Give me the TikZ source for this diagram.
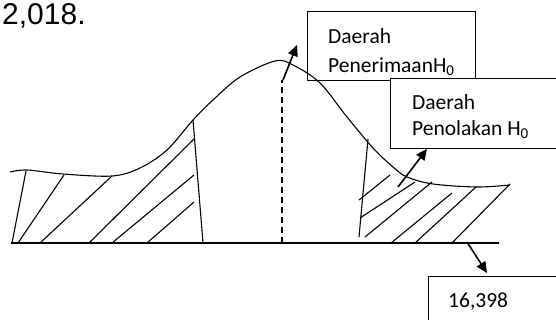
\documentclass[tikz,border=0pt]{standalone}
\usepackage{fontspec}
\setmainfont{Carlito}
\newfontfamily\arialf{Liberation Sans}
\usetikzlibrary{arrows.meta}
\tikzset{
  curveline/.style={line width=1.1pt, line join=round},
  hatch/.style={line width=1.1pt},
  baseline/.style={line width=1.4pt},
  boxnode/.style={draw, line width=1.1pt, inner sep=0pt, anchor=north west},
  lbl/.style={font=\fontsize{21.5}{29}\selectfont, align=left, inner sep=0pt, anchor=north west},
  ptr/.style={line width=1.6pt, -{Triangle[length=11pt,width=10pt]}},
}
\begin{document}
\begin{tikzpicture}[x=1pt,y=-1pt]
\clip (0,0) rectangle (556,320);
\useasboundingbox (0,0) rectangle (556,320);

% heading number
\node[font=\arialf\fontsize{30}{34}\selectfont, inner sep=0pt, anchor=base west] (num) at (2,24.5) {2,018.};

% boxes
\node[boxnode, minimum width=168pt, minimum height=69pt] (b1) at (307,11) {};
\node[boxnode, fill=white, minimum width=180pt, minimum height=70pt] (b2) at (390,78) {};
\node[boxnode, minimum width=150pt, minimum height=60pt] (b3) at (428,276) {};
\node[lbl] (t1) at (328,28) {Daerah\\PenerimaanH\textsubscript{0}};
\node[lbl, font=\fontsize{21.5}{26.5}\selectfont] (t2) at (412,94) {Daerah\\Penolakan H\textsubscript{0}};
\node[font=\fontsize{21.5}{26}\selectfont, inner sep=0pt, anchor=base west] (t3) at (448,307) {16,398};

% base line
\coordinate (bl) at (11,243);
\coordinate (br) at (499,243);
\draw[baseline] (bl) -- (br);

% curve
\draw[curveline] plot[smooth, tension=0.55] coordinates {
 (10,172) (27,170) (63,174) (112,176) (140,168) (167,150) (193,120) (213,100)
 (240,77) (275,61) (293,65) (320,83) (347,117) (373,148) (393,167) (407,177)
 (433,184) (477,187) (510,185)};

% left region boundary and hatching
\draw[hatch] (193,120) -- (203,243);
\draw[hatch] (26,171) -- (12,243);
\draw[hatch] (64,175) -- (18,243);
\draw[hatch] (112,176) -- (40,243);
\draw[hatch] (194,139) -- (89,243);
\draw[hatch] (194,175) -- (112,243);
\draw[hatch] (194,202) -- (147,243);

% right region boundary and hatching
\draw[hatch] (368,139) -- (359,237);
\draw[hatch] (390,175) -- (359,200);
\draw[hatch] (360,218) -- (415,182);
\draw[hatch] (365,237) -- (432,182);
\draw[hatch] (391,243) -- (452,193);
\draw[hatch] (415,243) -- (476,187);
\draw[hatch] (452,243) -- (510,184);

% dashed mean line
\coordinate (mtop) at (282,80);
\coordinate (mbot) at (282,243);
\draw[line width=1.1pt, dash pattern=on 6pt off 4pt] (mbot) -- (mtop);

% arrows
\coordinate (a1s) at (283,80);
\coordinate (a1e) at (297,45);
\coordinate (a2s) at (398,187);
\coordinate (a2e) at (427,149);
\coordinate (a3s) at (467,242);
\coordinate (a3e) at (487,273);
\draw[ptr] (a1s) -- (a1e);
\draw[ptr] (a2s) -- (a2e);
\draw[ptr] (a3s) -- (a3e);
\end{tikzpicture}
\end{document}
